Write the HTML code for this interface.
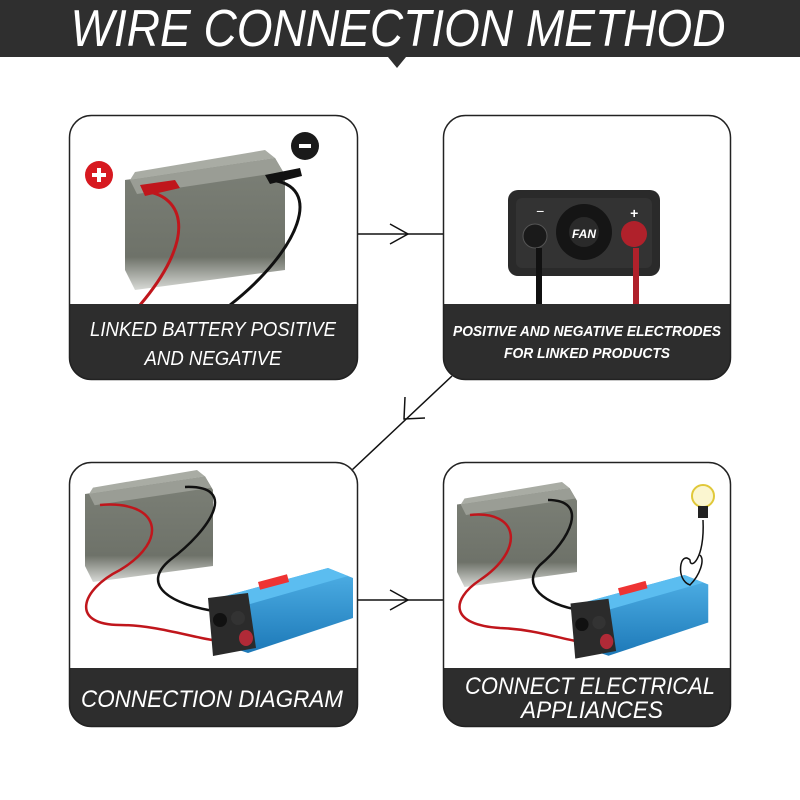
<!DOCTYPE html>
<html><head><meta charset="utf-8"><style>
html,body{margin:0;padding:0;background:#fff;width:800px;height:800px;overflow:hidden}
svg{display:block}
text{font-family:"Liberation Sans",sans-serif;font-style:italic;fill:#fff}
</style></head><body>
<svg width="800" height="800" viewBox="0 0 800 800" xmlns="http://www.w3.org/2000/svg">
<defs>
<clipPath id="c1"><rect x="69" y="115" width="289" height="265" rx="22"/></clipPath>
<clipPath id="c2"><rect x="443" y="115" width="288" height="265" rx="22"/></clipPath>
<clipPath id="c3"><rect x="69" y="462" width="289" height="265" rx="22"/></clipPath>
<clipPath id="c4"><rect x="443" y="462" width="288" height="265" rx="22"/></clipPath>
<linearGradient id="bat" x1="0" y1="0" x2="0" y2="1"><stop offset="0" stop-color="#7c8077"/><stop offset="0.75" stop-color="#6e7269"/><stop offset="1" stop-color="#d8dad6"/></linearGradient>
<linearGradient id="blue" x1="0" y1="0" x2="0" y2="1"><stop offset="0" stop-color="#4fb0e6"/><stop offset="1" stop-color="#1d79b8"/></linearGradient>
<g id="battery">
 <polygon points="0,30 150,8 160,25 160,120 10,140 0,120" fill="url(#bat)"/>
 <polygon points="5,30 150,8 158,22 12,44" fill="#9a9d95"/>
 <polygon points="10,22 140,0 150,8 5,30" fill="#a9aca4"/>
</g>
<g id="inverter">
 <polygon points="0,30 110,0 135,10 135,50 30,85 0,75" fill="url(#blue)"/>
 <polygon points="0,30 110,0 130,8 25,38" fill="#5bbdf0"/>
 <polygon points="-10,30 30,25 38,80 -5,88" fill="#2b2b2b"/>
 <circle cx="2" cy="52" r="7" fill="#111"/>
 <circle cx="20" cy="50" r="7" fill="#333"/>
 <ellipse cx="28" cy="70" rx="7" ry="8" fill="#b02a37"/>
 <rect x="40" y="14" width="30" height="8" fill="#e33" transform="rotate(-15 40 14)"/>
</g>
</defs>

<rect x="0" y="0" width="800" height="57" fill="#2f2f2f"/>
<polygon points="388,57 406,57 397,68" fill="#2f2f2f"/>
<text x="398" y="46" text-anchor="middle" font-size="52" textLength="655" lengthAdjust="spacingAndGlyphs">WIRE CONNECTION METHOD</text>

<g stroke="#111" stroke-width="1.5" fill="none">
<line x1="358" y1="234" x2="443" y2="234"/><polyline points="390,224 408,234 390,244"/>
<line x1="358" y1="600" x2="443" y2="600"/><polyline points="390,590 408,600 390,610"/>
<line x1="452" y1="376" x2="352" y2="470"/><polyline points="405,397 404,419 425,418"/>
</g>

<g clip-path="url(#c1)">
<rect x="69" y="115" width="289" height="265" fill="#fff"/>
<use href="#battery" transform="translate(125,150)"/>
<path d="M150,192 C185,200 195,240 140,305" stroke="#c0161c" stroke-width="3" fill="none"/>
<path d="M270,180 C325,185 300,250 230,305" stroke="#111" stroke-width="3" fill="none"/>
<polygon points="140,185 175,180 180,188 145,196" fill="#c0161c"/>
<polygon points="265,175 300,168 302,176 270,184" fill="#111"/>
<rect x="69" y="304" width="289" height="76" fill="#2d2d2d"/>
<text x="213" y="336" text-anchor="middle" font-size="20" textLength="246" lengthAdjust="spacingAndGlyphs">LINKED BATTERY POSITIVE</text>
<text x="213" y="365" text-anchor="middle" font-size="20" textLength="137" lengthAdjust="spacingAndGlyphs">AND NEGATIVE</text>
</g>
<rect x="69.5" y="115.5" width="288" height="264" rx="22" fill="none" stroke="#222" stroke-width="1.5"/>
<circle cx="99" cy="175" r="14" fill="#d71920"/><path d="M92,175h14M99,168v14" stroke="#fff" stroke-width="4"/>
<circle cx="305" cy="146" r="14" fill="#1a1a1a"/><path d="M299,146h12" stroke="#fff" stroke-width="4"/>

<g clip-path="url(#c2)">
<rect x="443" y="115" width="288" height="265" fill="#fff"/>
<rect x="508" y="190" width="152" height="86" rx="10" fill="#2a2a2a"/>
<rect x="516" y="198" width="136" height="70" rx="6" fill="#333"/>
<circle cx="584" cy="232" r="28" fill="#151515"/>
<circle cx="584" cy="232" r="15" fill="#2a2a2a"/>
<text x="584" y="238" text-anchor="middle" font-size="12" font-weight="bold" font-style="normal">FAN</text>
<circle cx="535" cy="236" r="12" fill="#1a1a1a" stroke="#555"/>
<circle cx="634" cy="234" r="13" fill="#b0212b"/>
<rect x="536" y="248" width="6" height="60" fill="#111"/>
<rect x="633" y="248" width="6" height="60" fill="#b0212b"/>
<text x="540" y="216" text-anchor="middle" font-size="14" font-style="normal">−</text>
<text x="634" y="218" text-anchor="middle" font-size="14" font-style="normal" font-weight="bold">+</text>
<rect x="443" y="304" width="288" height="76" fill="#2d2d2d"/>
<text x="587" y="336" text-anchor="middle" font-size="15" font-weight="bold" textLength="268" lengthAdjust="spacingAndGlyphs">POSITIVE AND NEGATIVE ELECTRODES</text>
<text x="587" y="358" text-anchor="middle" font-size="15" font-weight="bold" textLength="166" lengthAdjust="spacingAndGlyphs">FOR LINKED PRODUCTS</text>
</g>
<rect x="443.5" y="115.5" width="287" height="264" rx="22" fill="none" stroke="#222" stroke-width="1.5"/>

<g clip-path="url(#c3)">
<rect x="69" y="462" width="289" height="265" fill="#fff"/>
<use href="#battery" transform="translate(85,470) scale(0.8)"/>
<path d="M100,505 C160,500 170,540 120,570 C80,590 70,625 120,625 C180,625 240,660 262,630" stroke="#c0161c" stroke-width="2.5" fill="none"/>
<path d="M185,487 C240,485 210,530 170,560 C140,585 170,605 220,612" stroke="#111" stroke-width="2.5" fill="none"/>
<use href="#inverter" transform="translate(218,568)"/>
<rect x="69" y="668" width="289" height="59" fill="#2d2d2d"/>
<text x="212" y="707" text-anchor="middle" font-size="24" textLength="262" lengthAdjust="spacingAndGlyphs">CONNECTION DIAGRAM</text>
</g>
<rect x="69.5" y="462.5" width="288" height="264" rx="22" fill="none" stroke="#222" stroke-width="1.5"/>

<g clip-path="url(#c4)">
<rect x="443" y="462" width="288" height="265" fill="#fff"/>
<use href="#battery" transform="translate(457,482) scale(0.75)"/>
<path d="M470,515 C520,510 525,550 480,580 C450,600 450,625 500,628 C560,630 600,660 615,628" stroke="#c0161c" stroke-width="2.5" fill="none"/>
<path d="M548,500 C590,500 570,540 540,565 C520,585 545,605 580,610" stroke="#111" stroke-width="2.5" fill="none"/>
<use href="#inverter" transform="translate(580,575) scale(0.95)"/>
<path d="M703,520 C705,560 690,570 690,560 C680,550 675,580 690,585 C700,575 705,560 700,555" stroke="#111" stroke-width="1.5" fill="none"/>
<circle cx="703" cy="496" r="11" fill="#fbf6d0" stroke="#e0c83a" stroke-width="2"/>
<rect x="698" y="506" width="10" height="12" fill="#222"/>
<rect x="443" y="668" width="288" height="59" fill="#2d2d2d"/>
<text x="590" y="694" text-anchor="middle" font-size="24" textLength="250" lengthAdjust="spacingAndGlyphs">CONNECT ELECTRICAL</text>
<text x="592" y="718" text-anchor="middle" font-size="24" textLength="142" lengthAdjust="spacingAndGlyphs">APPLIANCES</text>
</g>
<rect x="443.5" y="462.5" width="287" height="264" rx="22" fill="none" stroke="#222" stroke-width="1.5"/>
</svg>
</body></html>
